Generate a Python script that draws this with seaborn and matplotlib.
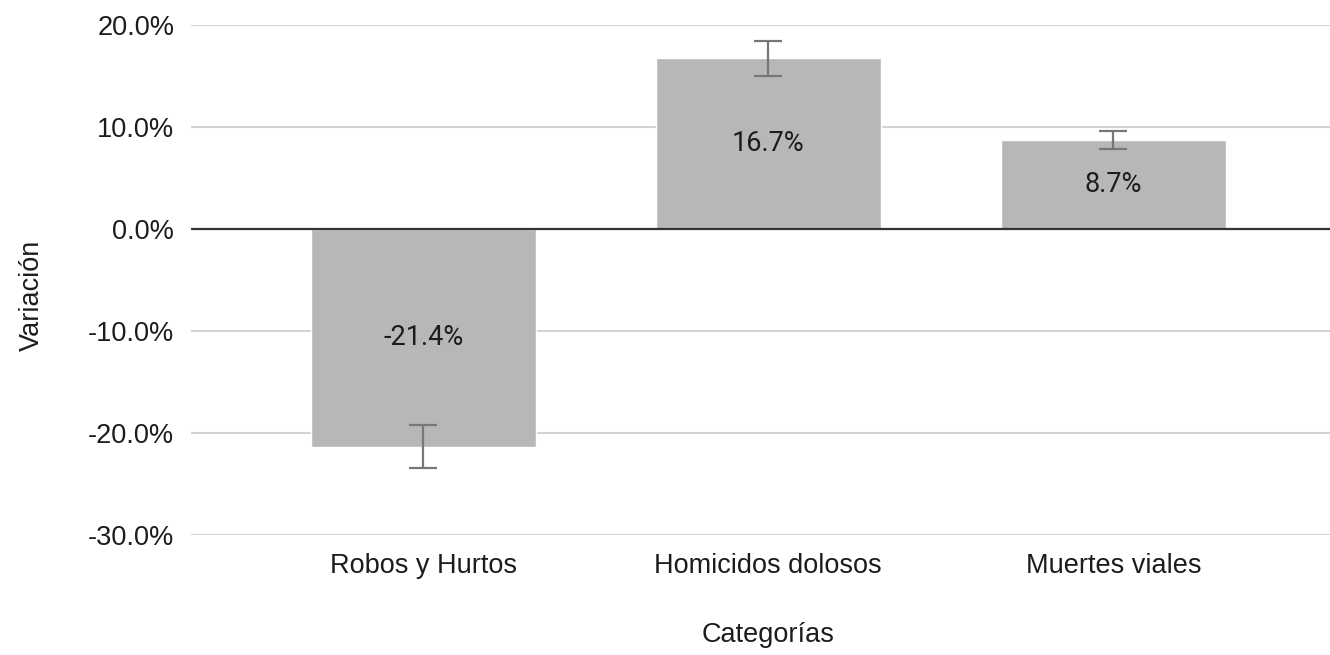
import numpy as np
import pandas as pd
import matplotlib
matplotlib.use("Agg")
import matplotlib.pyplot as plt
import seaborn as sns

# data
categorias = ["Robos y Hurtos", "Homicidos dolosos", "Muertes viales"]
variacion = [-21.4, 16.7, 8.7]
err_low = [-23.5, 15.0, 7.8]
err_high = [-19.2, 18.4, 9.6]
y_ticks = [-30, -20, -10, 0, 10, 20]

df = pd.DataFrame({"Categorías": categorias, "Variación": variacion})

sns.set_theme(style="white")
plt.rcParams["font.family"] = ["Liberation Sans", "DejaVu Sans"]

fig = plt.figure(figsize=(13.3, 6.55), dpi=100)
ax = fig.add_axes([191 / 1330, 1 - 534.7 / 655, 1 - 191 / 1330, (534.7 - 24.7) / 655])

# gridlines behind the bars
for t in y_ticks:
    if t != 0:
        ax.axhline(t, color="#d3d3d3", lw=1.5, zorder=0)

sns.barplot(data=df, x="Categorías", y="Variación", color="#b7b7b7",
            saturation=1, width=0.652, errorbar=None, ax=ax, zorder=2)

ax.axhline(0, color="#333333", lw=1.6, zorder=3)

xs = np.arange(len(categorias))
vals = np.array(variacion)
yerr = np.vstack([vals - np.array(err_low), np.array(err_high) - vals])
ax.errorbar(xs, vals, yerr=yerr, fmt="none", ecolor="#777777",
            elinewidth=1.6, capsize=10, capthick=1.6, zorder=4)

for x, v in zip(xs, variacion):
    ax.text(x, v / 2, f"{v:.1f}%", ha="center", va="center",
            fontsize=19.5, color="#1c1c1c", family=["Roboto", "DejaVu Sans"], zorder=5)

ax.set_ylim(-30, 20)
ax.set_xlim(-0.673, 2.628)
ax.set_yticks(y_ticks)
ax.set_yticklabels([f"{t:.1f}%" for t in y_ticks])
ax.tick_params(axis="both", length=0, labelsize=19.5, labelcolor="#1c1c1c")
ax.tick_params(axis="y", pad=12)
ax.tick_params(axis="x", pad=13)
sns.despine(ax=ax, left=True, bottom=True)

ax.set_xlabel("Categorías", fontsize=19.5, color="#1c1c1c")
ax.set_ylabel("Variación", fontsize=19.5, color="#1c1c1c")
ax.xaxis.set_label_coords(0.507, -0.172)
ax.yaxis.set_label_coords(-0.128, 0.47)

fig.savefig("out.png", dpi=100)
